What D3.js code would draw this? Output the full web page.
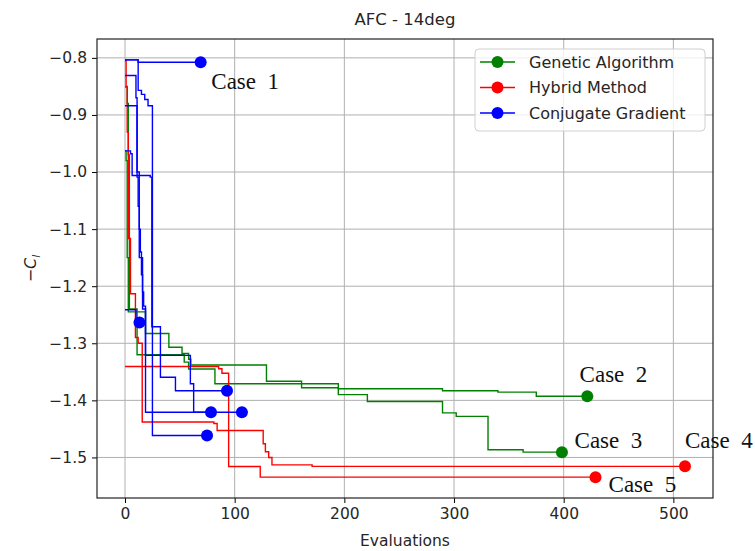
<!DOCTYPE html>
<html>
<head>
<meta charset="utf-8">
<script src="https://cdn.jsdelivr.net/npm/d3@7"></script>
<style>
  body { margin: 0; background: #fff; }
  svg { display: block; font-family: "DejaVu Sans", sans-serif; }
</style>
</head>
<body>
<script>
// best-so-far traces: [evaluation, value], value holds from that evaluation on
const gaCase2 = [[0,-0.851],[2,-0.88],[3,-0.97],[4,-1.24],[11,-1.32],[54,-1.333],[58,-1.345],[82,-1.371],[194.5,-1.3797],[289.5,-1.3832],[340,-1.3856],[375,-1.3927],[421.5,-1.3927]];
const gaCase3 = [[0,-0.963],[1,-0.98],[2,-1.15],[3,-1.245],[18.7,-1.283],[40,-1.307],[52,-1.318],[58,-1.328],[60,-1.338],[129,-1.3664],[161,-1.378],[194.5,-1.39],[221,-1.402],[289.5,-1.422],[302,-1.428],[331,-1.4865],[363,-1.4907],[398.4,-1.4907]];

const hyCase4 = [[0,-0.805],[1,-0.85],[2,-0.93],[3,-1.1165],[5,-1.2133],[9.5,-1.29],[12,-1.3],[15.7,-1.438],[81,-1.4405],[84,-1.4527],[126,-1.476],[128,-1.49],[131,-1.5],[134,-1.5131],[170.6,-1.5156],[510.6,-1.5156]];
const hyCase5 = [[0,-1.3406],[85.4,-1.3447],[88.4,-1.3524],[94.5,-1.5158],[123.3,-1.5345],[429,-1.5345]];

const cgCase1 = [[0,-0.8035],[12,-0.8077],[69,-0.8077]];
const cgRunA = [[0,-1.2413],[10,-1.2637],[13.2,-1.2637]];
const cgRunB = [[0,-0.963],[5,-0.968],[6.5,-1.006],[23,-1.009],[24.5,-1.271],[32.3,-1.3594],[46,-1.3831],[93,-1.3831]];
const cgRunC = [[0,-0.884],[11,-1.009],[12,-1.06],[13,-1.1],[14,-1.14],[15,-1.18],[16,-1.21],[17,-1.235],[18.7,-1.4207],[78.4,-1.4207]];
const cgRunD = [[0,-0.831],[10,-0.87],[11,-1.0],[13,-1.15],[16,-1.24],[18.7,-1.3212],[59.6,-1.371],[62.6,-1.4207],[106.6,-1.4207]];
const cgRunE = [[0,-0.8035],[12,-0.857],[15,-0.864],[18,-0.873],[21,-0.884],[25,-1.4615],[74.8,-1.4615]];

const seriesNames = ["Genetic Algorithm", "Hybrid Method", "Conjugate Gradient"];
const seriesColors = ["#008000", "#ff0000", "#0000ff"];

const xTicks = [0, 100, 200, 300, 400, 500];
const yTicks = [-0.8, -0.9, -1.0, -1.1, -1.2, -1.3, -1.4, -1.5];

const caseNames = ["Case  1", "Case  2", "Case  3", "Case  4", "Case  5"];
const caseAnchors = [[78.7,-0.8538],[414.5,-1.368],[409.9,-1.483],[510.6,-1.483],[440.9,-1.5608]];

const groups = [
  { color: 0, runs: [gaCase2, gaCase3] },
  { color: 1, runs: [hyCase4, hyCase5] },
  { color: 2, runs: [cgCase1, cgRunA, cgRunB, cgRunC, cgRunD, cgRunE] }
];

const W = 755, H = 551;
const margin = { top: 39, right: 42, bottom: 53, left: 97 },
    width = W - margin.left - margin.right,
    height = H - margin.top - margin.bottom;

const svg = d3.select("body").append("svg")
    .attr("width", W)
    .attr("height", H);

const g = svg.append("g")
    .attr("transform", `translate(${margin.left},${margin.top})`);

// matplotlib-like 5% margins around the data
const allPts = groups.flatMap(gr => gr.runs.flat());
const xExt = d3.extent(allPts, d => d[0]);
const yExt = d3.extent(allPts, d => d[1]);
const xPad = (xExt[1] - xExt[0]) * 0.05, yPad = (yExt[1] - yExt[0]) * 0.05;

const x = d3.scaleLinear().domain([xExt[0] - xPad, xExt[1] + xPad]).range([0, width]);
const y = d3.scaleLinear().domain([yExt[0] - yPad, yExt[1] + yPad]).range([height, 0]);

// grid
g.append("g").selectAll("line").data(xTicks).enter().append("line")
    .attr("x1", d => x(d)).attr("x2", d => x(d))
    .attr("y1", 0).attr("y2", height)
    .attr("stroke", "#b0b0b0").attr("stroke-width", 1);
g.append("g").selectAll("line").data(yTicks).enter().append("line")
    .attr("y1", d => y(d)).attr("y2", d => y(d))
    .attr("x1", 0).attr("x2", width)
    .attr("stroke", "#b0b0b0").attr("stroke-width", 1);

// traces
svg.append("defs").append("clipPath").attr("id", "plot-clip")
  .append("rect").attr("width", width).attr("height", height);

const line = d3.line()
    .x(d => x(d[0]))
    .y(d => y(d[1]))
    .curve(d3.curveStepAfter);

const plot = g.append("g").attr("clip-path", "url(#plot-clip)");
groups.forEach(gr => {
  gr.runs.forEach(run => {
    plot.append("path")
        .datum(run)
        .attr("fill", "none")
        .attr("stroke", seriesColors[gr.color])
        .attr("stroke-width", 1.4)
        .attr("d", line);
  });
  plot.selectAll(null)
      .data(gr.runs.map(r => r[r.length - 1]))
      .enter().append("circle")
        .attr("cx", d => x(d[0]))
        .attr("cy", d => y(d[1]))
        .attr("r", 6)
        .attr("fill", seriesColors[gr.color]);
});

// axes
const xAxis = d3.axisBottom(x).tickValues(xTicks).tickSize(5).tickPadding(5).tickSizeOuter(0);
const yAxis = d3.axisLeft(y).tickValues(yTicks).tickSize(5).tickPadding(5).tickSizeOuter(0)
    .tickFormat(d => d3.format(".1f")(d).replace("-", "\u2212"));

g.append("g").attr("transform", `translate(0,${height})`).call(xAxis)
    .call(a => a.select(".domain").remove())
    .selectAll("text").attr("font-size", 15.5).attr("fill", "#262626").attr("font-family", "DejaVu Sans");
g.append("g").call(yAxis)
    .call(a => a.select(".domain").remove())
    .selectAll("text").attr("font-size", 15.5).attr("fill", "#262626").attr("font-family", "DejaVu Sans");

g.append("rect")
    .attr("width", width).attr("height", height)
    .attr("fill", "none").attr("stroke", "#222").attr("stroke-width", 1.2);

// labels
svg.append("text")
    .attr("x", margin.left + width / 2).attr("y", 25)
    .attr("text-anchor", "middle")
    .attr("font-size", 16.5).attr("fill", "#262626")
    .text("AFC - 14deg");

svg.append("text")
    .attr("x", margin.left + width / 2).attr("y", 546)
    .attr("text-anchor", "middle")
    .attr("font-size", 15.5).attr("fill", "#262626")
    .text("Evaluations");

const yl = svg.append("text")
    .attr("transform", `translate(36,${margin.top + height / 2}) rotate(-90)`)
    .attr("text-anchor", "middle")
    .attr("font-size", 16).attr("fill", "#262626");
yl.append("tspan").text("\u2212");
yl.append("tspan").attr("font-style", "italic").text("C");
yl.append("tspan").attr("font-style", "italic").attr("font-size", 11).attr("dy", 4).text("l");

// case annotations
svg.selectAll(".case")
    .data(caseNames)
    .enter().append("text")
      .attr("class", "case")
      .attr("x", (d, i) => margin.left + x(caseAnchors[i][0]))
      .attr("y", (d, i) => margin.top + y(caseAnchors[i][1]))
      .attr("font-family", "Liberation Serif, serif")
      .attr("font-size", 23)
      .style("white-space", "pre")
      .attr("fill", "#111")
      .text(d => d);

// legend
const legend = svg.append("g").attr("transform", "translate(475,49)");
legend.append("rect")
    .attr("width", 230).attr("height", 82).attr("rx", 4)
    .attr("fill", "#fff").attr("fill-opacity", 0.8)
    .attr("stroke", "#d0d0d0");
const items = legend.selectAll(".item").data(seriesNames).enter().append("g")
    .attr("transform", (d, i) => `translate(0,${13 + i * 25.5})`);
items.append("line")
    .attr("x1", 5).attr("x2", 40)
    .attr("stroke", (d, i) => seriesColors[i]).attr("stroke-width", 1.4);
items.append("circle")
    .attr("cx", 22.5).attr("r", 6)
    .attr("fill", (d, i) => seriesColors[i]);
items.append("text")
    .attr("x", 54).attr("dy", "0.35em")
    .attr("font-size", 16).attr("fill", "#262626")
    .text(d => d);
</script>
</body>
</html>
